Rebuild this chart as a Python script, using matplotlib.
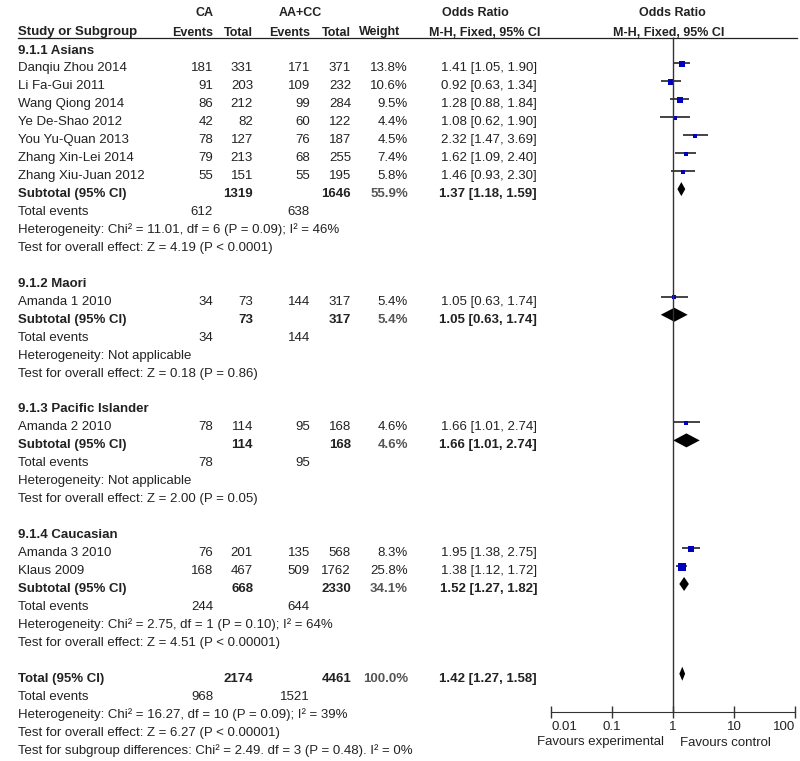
import matplotlib
matplotlib.use('Agg')
import matplotlib.pyplot as plt
import numpy as np

plt.rcParams['font.family'] = ['Liberation Sans', 'DejaVu Sans']

# study level data
studies = ["Danqiu Zhou 2014", "Li Fa-Gui 2011", "Wang Qiong 2014", "Ye De-Shao 2012",
           "You Yu-Quan 2013", "Zhang Xin-Lei 2014", "Zhang Xiu-Juan 2012",
           "Amanda 1 2010", "Amanda 2 2010", "Amanda 3 2010", "Klaus 2009"]
study_group = [0, 0, 0, 0, 0, 0, 0, 1, 2, 3, 3]
ca_events = [181, 91, 86, 42, 78, 79, 55, 34, 78, 76, 168]
ca_total = [331, 203, 212, 82, 127, 213, 151, 73, 114, 201, 467]
aa_events = [171, 109, 99, 60, 76, 68, 55, 144, 95, 135, 509]
aa_total = [371, 232, 284, 122, 187, 255, 195, 317, 168, 568, 1762]
weights = [13.8, 10.6, 9.5, 4.4, 4.5, 7.4, 5.8, 5.4, 4.6, 8.3, 25.8]
odds = [1.41, 0.92, 1.28, 1.08, 2.32, 1.62, 1.46, 1.05, 1.66, 1.95, 1.38]
ci_lo = [1.05, 0.63, 0.88, 0.62, 1.47, 1.09, 0.93, 0.63, 1.01, 1.38, 1.12]
ci_hi = [1.90, 1.34, 1.84, 1.90, 3.69, 2.40, 2.30, 1.74, 2.74, 2.75, 1.72]

# subgroup data
groups = ["9.1.1 Asians", "9.1.2 Maori", "9.1.3 Pacific Islander", "9.1.4 Caucasian"]
sub_ca_total = [1319, 73, 114, 668]
sub_aa_total = [1646, 317, 168, 2330]
sub_weight = [55.9, 5.4, 4.6, 34.1]
sub_or = [1.37, 1.05, 1.66, 1.52]
sub_lo = [1.18, 0.63, 1.01, 1.27]
sub_hi = [1.59, 1.74, 2.74, 1.82]
sub_ca_events = [612, 34, 78, 244]
sub_aa_events = [638, 144, 95, 644]
sub_het = ["Chi\u00b2 = 11.01, df = 6 (P = 0.09); I\u00b2 = 46%", "Not applicable",
           "Not applicable", "Chi\u00b2 = 2.75, df = 1 (P = 0.10); I\u00b2 = 64%"]
sub_z = ["Z = 4.19 (P < 0.0001)", "Z = 0.18 (P = 0.86)", "Z = 2.00 (P = 0.05)",
         "Z = 4.51 (P < 0.00001)"]

# overall
tot_ca_total, tot_aa_total = 2174, 4461
tot_weight = 100.0
tot_or, tot_lo, tot_hi = 1.42, 1.27, 1.58
tot_ca_events, tot_aa_events = 968, 1521
tot_het = "Chi\u00b2 = 16.27, df = 10 (P = 0.09); I\u00b2 = 39%"
tot_z = "Z = 6.27 (P < 0.00001)"
subgroup_diff = "Chi\u00b2 = 2.49. df = 3 (P = 0.48). I\u00b2 = 0%"

axis_ticks = [0.01, 0.1, 1, 10, 100]
axis_labels = ["0.01", "0.1", "1", "10", "100"]

# layout (pixels)
W, H = 800, 761
y0, pitch = 49, 17.95
x_lab, x_cae, x_cat, x_aae, x_aat, x_w, x_or = 18, 213, 253, 310, 351, 408, 537
fs = 9.5
hfs = 9
txt = '#222222'
blue = '#0000c0'

fig = plt.figure(figsize=(W / 100, H / 100), dpi=100)
ax = fig.add_axes([0, 0, 1, 1])
ax.set_xlim(0, W)
ax.set_ylim(H, 0)
ax.axis('off')

fa = fig.add_axes([551 / W, 0, (795 - 551) / W, 1])
fa.set_xscale('log')
fa.set_xlim(0.01, 100)
fa.set_ylim(H, 0)
fa.patch.set_alpha(0)


def put(x, y, s, ha='left', bold=False, color=txt, size=fs):
    ax.text(x, y + 4.5, s, ha=ha, va='baseline', fontsize=size,
            fontweight='bold' if bold else 'normal', color=color)


def head(x, y, s, ha='left'):
    put(x, y, s, ha=ha, bold=True, size=hfs)


def ypos(r):
    return y0 + r * pitch


# header
head(205, 12, "CA", ha='center')
head(300, 12, "AA+CC", ha='center')
head(475, 12, "Odds Ratio", ha='center')
head(672, 12, "Odds Ratio", ha='center')
put(x_lab, 31, "Study or Subgroup", bold=True)
head(x_cae, 31, "Events", ha='right')
head(x_cat, 31, "Total", ha='right')
head(x_aae, 31, "Events", ha='right')
head(x_aat, 31, "Total", ha='right')
head(359, 31, "Weight")
head(485, 31, "M-H, Fixed, 95% CI", ha='center')
head(669, 31, "M-H, Fixed, 95% CI", ha='center')
ax.plot([x_lab, 797], [38, 38], color=txt, lw=0.9)

dy = -3.5
r = 0
for g, name in enumerate(groups):
    put(x_lab, ypos(r), name, bold=True)
    r += 1
    for i in range(len(studies)):
        if study_group[i] != g:
            continue
        y = ypos(r)
        put(x_lab, y, studies[i])
        put(x_cae, y, str(ca_events[i]), ha='right')
        put(x_cat, y, str(ca_total[i]), ha='right')
        put(x_aae, y, str(aa_events[i]), ha='right')
        put(x_aat, y, str(aa_total[i]), ha='right')
        put(x_w, y, "%.1f%%" % weights[i], ha='right')
        put(x_or, y, "%.2f [%.2f, %.2f]" % (odds[i], ci_lo[i], ci_hi[i]), ha='right')
        fa.hlines(y + dy, ci_lo[i], ci_hi[i], color='#111111', lw=1.1)
        fa.plot(odds[i], y + dy + 0.5, 's', color=blue,
                ms=1.0 * np.sqrt(weights[i]) + 0.8, mew=0)
        r += 1
    y = ypos(r)
    put(x_lab, y, "Subtotal (95% CI)", bold=True)
    put(x_cat, y, str(sub_ca_total[g]), ha='right', bold=True)
    put(x_aat, y, str(sub_aa_total[g]), ha='right', bold=True)
    put(x_w, y, "%.1f%%" % sub_weight[g], ha='right', bold=True, color='#555555')
    put(x_or, y, "%.2f [%.2f, %.2f]" % (sub_or[g], sub_lo[g], sub_hi[g]), ha='right', bold=True)
    fa.fill([sub_lo[g], sub_or[g], sub_hi[g], sub_or[g]],
            [y + dy, y + dy - 7, y + dy, y + dy + 7], color='black', lw=0)
    r += 1
    y = ypos(r)
    put(x_lab, y, "Total events")
    put(x_cae, y, str(sub_ca_events[g]), ha='right')
    put(x_aae, y, str(sub_aa_events[g]), ha='right')
    r += 1
    put(x_lab, ypos(r), "Heterogeneity: " + sub_het[g])
    r += 1
    put(x_lab, ypos(r), "Test for overall effect: " + sub_z[g])
    r += 2

# overall
y = ypos(r)
put(x_lab, y, "Total (95% CI)", bold=True)
put(x_cat, y, str(tot_ca_total), ha='right', bold=True)
put(x_aat, y, str(tot_aa_total), ha='right', bold=True)
put(x_w, y, "%.1f%%" % tot_weight, ha='right', bold=True, color='#555555')
put(x_or, y, "%.2f [%.2f, %.2f]" % (tot_or, tot_lo, tot_hi), ha='right', bold=True)
fa.fill([tot_lo, tot_or, tot_hi, tot_or], [y + dy, y + dy - 7, y + dy, y + dy + 7],
        color='black', lw=0)
r += 1
y = ypos(r)
put(x_lab, y, "Total events")
put(x_cae, y, str(tot_ca_events), ha='right')
put(x_aae, y, str(tot_aa_events), ha='right')
r += 1
put(x_lab, ypos(r), "Heterogeneity: " + tot_het)
r += 1
put(x_lab, ypos(r), "Test for overall effect: " + tot_z)
r += 1
put(x_lab, ypos(r), "Test for subgroup differences: " + subgroup_diff)

# forest axis
axis_y = 712
fa.vlines(1, 37, axis_y, color='#333333', lw=1)
for s in ['top', 'left', 'right']:
    fa.spines[s].set_visible(False)
fa.spines['bottom'].set_position(('data', axis_y))
fa.spines['bottom'].set_color('#333333')
fa.set_xticks(axis_ticks)
fa.set_xticklabels(axis_labels)
fa.xaxis.set_minor_locator(matplotlib.ticker.NullLocator())
fa.tick_params(axis='x', direction='inout', length=9, width=1, color='#333333',
               labelsize=fs, labelcolor=txt, pad=2)
tl = fa.get_xticklabels()
tl[0].set_ha('left')
tl[-1].set_ha('right')
fa.set_yticks([])
put(664, 741, "Favours experimental", ha='right')
put(680, 741, "Favours control")

fig.savefig('out.png', dpi=100)
